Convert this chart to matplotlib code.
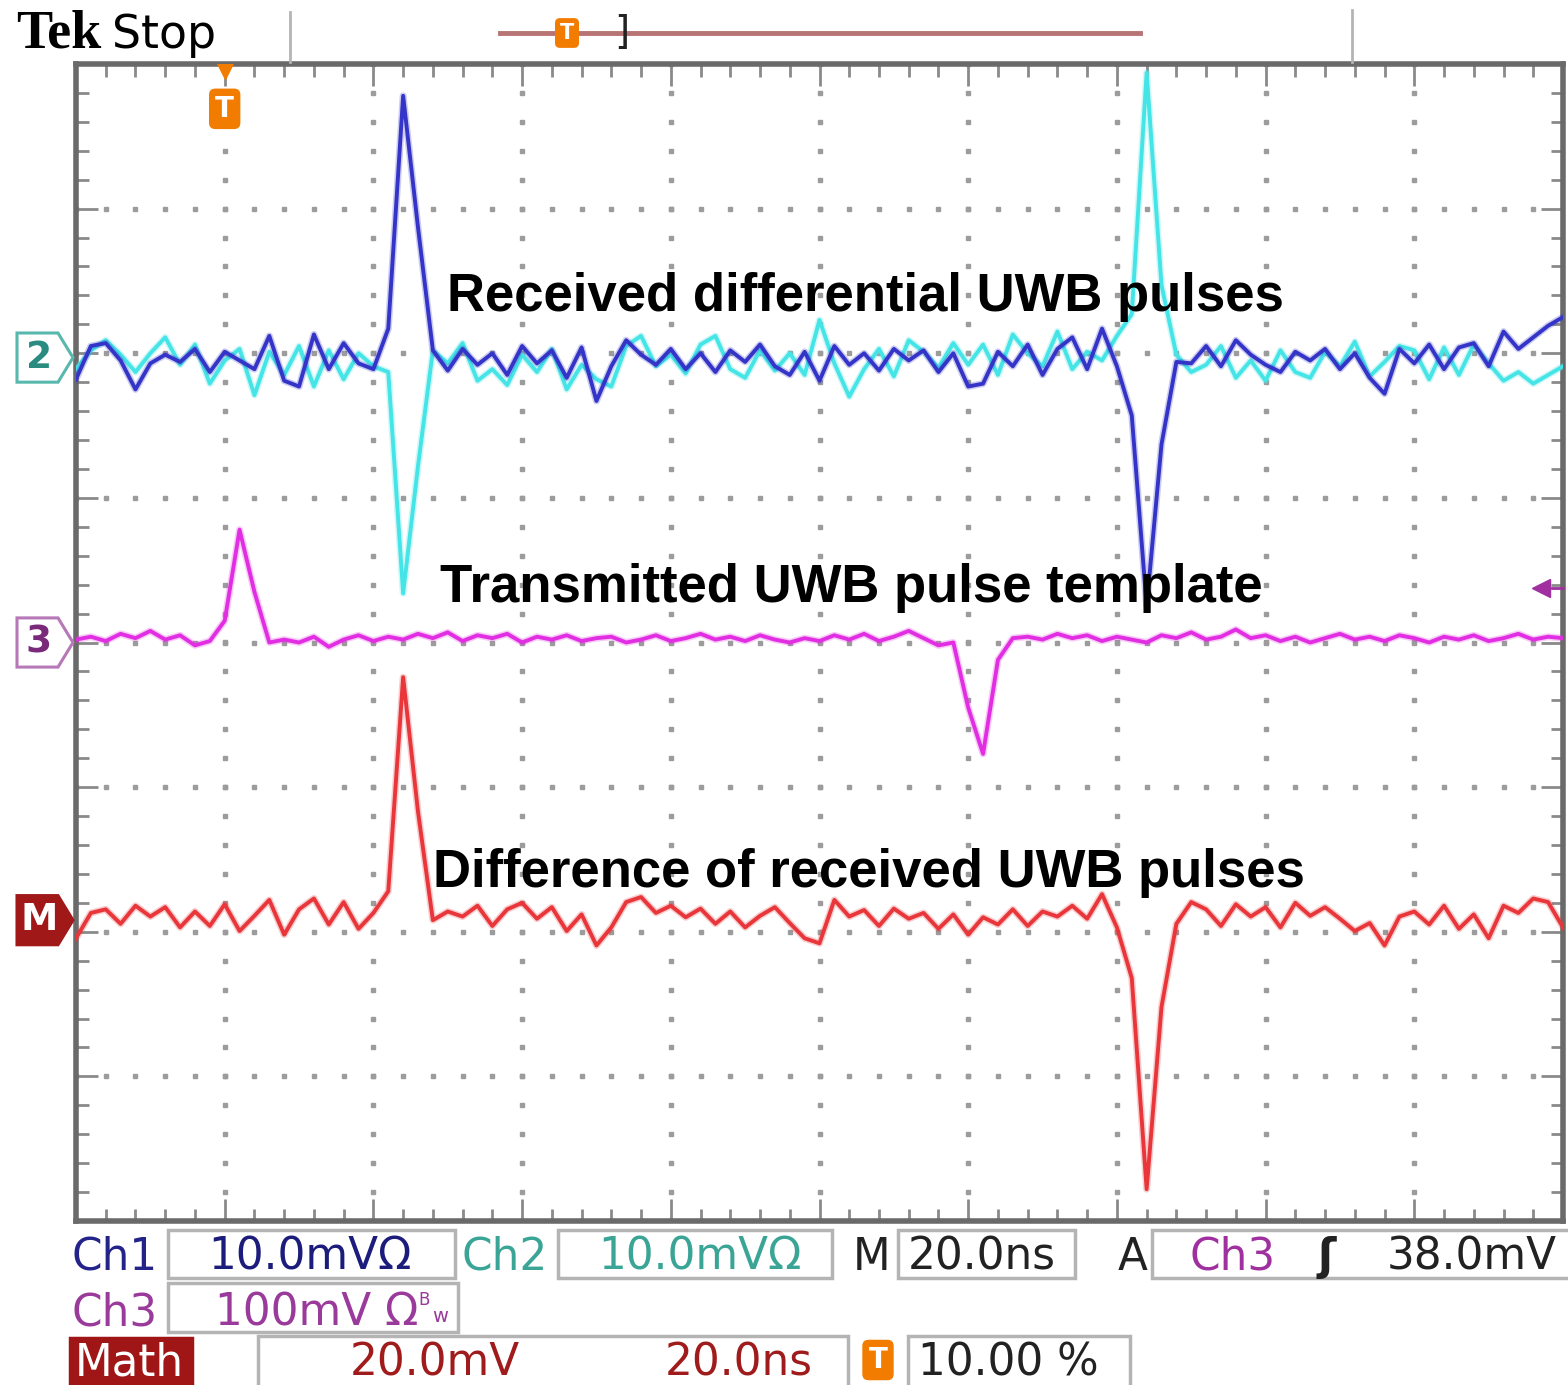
import numpy as np
import matplotlib
matplotlib.use("Agg")
import matplotlib.pyplot as plt
from matplotlib import transforms
from matplotlib.patches import Polygon, Rectangle
from matplotlib.lines import Line2D
from matplotlib.ticker import MultipleLocator

W, H = 1568, 1385

# sample times in ns (20 ns/div, 10 divisions)
t_ns = np.arange(0, 201, 2)

# Ch1 received pulse (mV)
ch1_mv = [-1.5, 0.8, 1.0, -0.2, -2.2, -0.4, 0.2, -0.3, 0.6, -1.0,
          0.4, -0.2, -0.8, 1.5, -1.6, -2.0, 1.6, -0.8, 1.0, -0.4,
          -0.8, 2.0, 18.1, 9.0, 0.5, -0.9, 0.6, -0.5, 0.3, -1.2,
          0.8, -0.4, 0.5, -1.4, 0.7, -3.0, -0.6, 1.2, 0.2, -0.5,
          0.6, -0.8, 0.3, -1.0, 0.5, -0.3, 0.9, -0.6, -1.2, 0.4,
          -1.6, 0.8, -0.5, 0.3, -0.9, 0.6, -0.2, 0.5, -1.0, 0.3,
          -2.0, -1.8, 0.4, -0.6, 0.9, -1.2, 0.6, 1.4, -0.8, 2.0,
          -0.6, -4.0, -17.2, -6.0, -0.3, -0.4, 0.8, -0.6, 1.2, 0.2,
          -0.5, -1.0, 0.4, -0.2, 0.6, -0.8, 0.3, -1.4, -2.5, 0.6,
          -0.4, 0.9, -0.8, 0.7, 1.0, -0.6, 1.8, 0.6, 1.4, 2.2,
          2.8]

# Ch2 received pulse, opposite polarity (mV)
ch2_mv = [-0.8, 0.5, 1.2, 0.2, -1.0, 0.3, 1.4, -0.5, 0.9, -1.8,
          -0.2, 0.6, -2.6, 0.4, -1.2, 0.8, -2.0, 0.5, -1.5, 0.3,
          -0.6, -1.0, -16.3, -7.5, 0.5, -0.4, 1.0, -1.6, -0.8, -1.9,
          0.2, -1.0, 0.6, -2.2, -0.5, -1.5, -2.0, 0.8, 1.5, -0.6,
          0.2, -1.1, 0.9, 1.5, -0.8, -1.4, 0.5, -0.9, 0.3, -1.2,
          2.6, -0.4, -2.7, -0.8, 0.6, -1.3, 1.2, 0.4, -0.7, 1.0,
          -0.5, 0.9, -1.2, 1.6, 0.3, -0.6, 1.8, -0.8, 0.4, -0.2,
          1.5, 3.0, 19.7, 5.0, 0.2, -1.0, -0.5, 0.8, -1.4, -0.2,
          -1.6, 0.5, -1.0, -1.4, 0.4, -0.6, 1.1, -1.3, -0.3, 0.8,
          0.5, -1.5, 0.7, -1.2, 0.9, -0.4, -1.6, -1.0, -1.8, -1.2,
          -0.6]

# Ch3 transmitted template (mV)
ch3_mv = [2, 4, 1, 6, 3, 8, 2, 5, -2, 1,
          15, 78, 35, 0, 2, 0, 4, -3, 2, 5,
          1, 4, 2, 6, 3, 7, 1, 5, 3, 6,
          0, 4, 2, 5, 1, 3, 4, 0, 2, 5,
          1, 3, 6, 2, 4, 1, 5, 2, 0, 3,
          1, 5, 2, 6, 1, 4, 8, 3, -2, 0,
          -45, -77, -12, 3, 4, 2, 6, 3, 5, 1,
          4, 2, 0, 5, 3, 7, 2, 4, 9, 3,
          5, 1, 4, 0, 3, 6, 2, 4, 1, 5,
          3, 0, 4, 2, 5, 1, 3, 6, 2, 4,
          3]

# Math trace, difference of received pulses (mV)
math_mv = [-2.5, 1.0, 1.5, -0.5, 2.0, 0.5, 1.8, -1.0, 1.2, -0.8,
           2.2, -1.5, 0.6, 2.8, -2.0, 1.5, 3.0, -0.6, 2.5, -1.2,
           1.0, 4.0, 33.6, 15.0, 0.0, 1.2, 0.5, 2.0, -0.8, 1.5,
           2.4, 0.2, 1.8, -1.5, 0.8, -3.5, -1.0, 2.5, 3.2, 1.0,
           2.0, 0.4, 1.6, -0.5, 1.2, -1.0, 0.6, 1.8, -0.4, -2.5,
           -3.2, 2.8, 0.5, 1.4, -0.8, 1.6, 0.2, 1.0, -1.2, 0.8,
           -2.0, 0.4, -0.6, 1.5, -0.8, 1.2, 0.5, 2.0, 0.2, 3.6,
           -1.0, -8.0, -37.2, -12.0, -0.5, 2.5, 1.5, -0.8, 2.2, 0.5,
           1.8, -1.0, 2.4, 0.6, 1.8, 0.2, -1.5, -0.4, -3.5, 0.5,
           1.2, -0.6, 2.0, -1.2, 0.8, -2.5, 2.0, 1.0, 3.0, 2.5,
           -1.0]

# vertical scale (mV/div) and position (div)
ch1_scale, ch2_scale, ch3_scale, math_scale = 10.0, 10.0, 100.0, 20.0
ch12_pos, ch3_pos, math_pos = 1.97, 0.0, -1.92
trig_level_mv = 38.0
trig_time_ns = 20.0

labels = ['Received differential UWB pulses',
          'Transmitted UWB pulse template',
          'Difference of received UWB pulses']


def fx(px):
    return px / W


def fy(py):
    return 1 - py / H


fig = plt.figure(figsize=(W / 100, H / 100), dpi=100)
fig.patch.set_facecolor('white')

ax = fig.add_axes([fx(76), fy(1221), fx(1563) - fx(76), fy(64) - fy(1221)])
ax.set_xlim(0, 200)
ax.set_ylim(-4, 4)
for s in ax.spines.values():
    s.set_color('#6a6a6a')
    s.set_linewidth(4)
ax.xaxis.set_major_locator(MultipleLocator(20))
ax.xaxis.set_minor_locator(MultipleLocator(4))
ax.yaxis.set_major_locator(MultipleLocator(1))
ax.yaxis.set_minor_locator(MultipleLocator(0.2))
ax.tick_params(which='both', direction='in', top=True, right=True,
               labelbottom=False, labelleft=False, color='#8a8a8a', width=2)
ax.tick_params(which='major', length=16)
ax.tick_params(which='minor', length=9)

# dotted graticule
for x in np.arange(20, 200, 20):
    ys = np.arange(-4, 4.01, 0.2)
    ax.plot(np.full_like(ys, x), ys, ls='none', marker='s', ms=2.4,
            color='#9c9c9c', zorder=1)
for y in np.arange(-3, 4, 1):
    xs = np.arange(0, 200.1, 4)
    ax.plot(xs, np.full_like(xs, y), ls='none', marker='s', ms=2.4,
            color='#9c9c9c', zorder=1)

# waveforms (light halo under each trace, like the phosphor display)
traces = [
    (ch12_pos + np.array(ch2_mv) / ch2_scale, '#45e4e6', 3),
    (ch12_pos + np.array(ch1_mv) / ch1_scale, '#3434c8', 4),
    (ch3_pos + np.array(ch3_mv) / ch3_scale, '#e22ee2', 3),
    (math_pos + np.array(math_mv) / math_scale, '#e8363a', 3),
]
for yv, col, z in traces:
    ax.plot(t_ns, yv, color=col, lw=5, alpha=0.25, zorder=z)
    ax.plot(t_ns, yv, color=col, lw=2.8, zorder=z)

# trigger level arrow on the right edge
lvl = ch3_pos + trig_level_mv / ch3_scale
ax.plot([198.5, 200], [lvl, lvl], color='#a0309f', lw=2, zorder=5, clip_on=False)
ax.plot([197], [lvl], marker='<', ms=13, color='#a0309f', zorder=5, clip_on=False)

# trigger position marker at the top
ax.plot([trig_time_ns], [3.95], marker='v', ms=12, color='#f27c00', zorder=5)
ax.text(trig_time_ns, 3.69, 'T', ha='center', va='center', color='white',
        fontsize=20, fontweight='bold', zorder=6,
        bbox=dict(boxstyle='round,pad=0.2', fc='#f27c00', ec='#f27c00'))

# channel position markers on the left
blend = transforms.blended_transform_factory(fig.transFigure, ax.transData)


def chan_marker(ypos, label, edge, face, txt):
    h = 0.17
    pts = [(fx(17), ypos - h), (fx(58), ypos - h), (fx(73), ypos),
           (fx(58), ypos + h), (fx(17), ypos + h)]
    ax.add_patch(Polygon(pts, closed=True, transform=blend, clip_on=False,
                         fc=face, ec=edge, lw=2.2, zorder=6))
    ax.text(fx(39), ypos, label, transform=blend, ha='center', va='center',
            color=txt, fontsize=27, fontweight='bold', clip_on=False, zorder=7)


chan_marker(ch12_pos, '2', '#58b8ae', 'white', '#2a8c80')
chan_marker(ch3_pos, '3', '#b678b6', 'white', '#7a2a7a')
chan_marker(math_pos, 'M', '#a01818', '#a01818', 'white')

# annotations
ann = dict(family='Liberation Sans', weight='bold', size=38, color='black',
           ha='left', va='baseline', zorder=10)
fig.text(fx(447), fy(311), labels[0], **ann)
fig.text(fx(440), fy(602), labels[1], **ann)
fig.text(fx(433), fy(887), labels[2], **ann)

# status bar at the top
fig.text(fx(16), fy(48), 'Tek', family='Liberation Serif', weight='bold', size=39)
fig.text(fx(112), fy(48), 'Stop', family='DejaVu Sans', size=33)
fig.add_artist(Line2D([fx(290)] * 2, [fy(12), fy(62)], color='#b4b4b4', lw=2))
fig.add_artist(Line2D([fx(1352)] * 2, [fy(10), fy(62)], color='#b4b4b4', lw=2))
fig.add_artist(Line2D([fx(500), fx(1140)], [fy(33)] * 2, color='#b87474', lw=3.5))
fig.text(fx(567), fy(33), 'T', ha='center', va='center', color='white',
         fontsize=15, fontweight='bold',
         bbox=dict(boxstyle='round,pad=0.2', fc='#f27c00', ec='#f27c00'))
fig.text(fx(622), fy(33), ']', ha='center', va='center', fontsize=28, color='#222222')

# readout area
ro = dict(family='DejaVu Sans', size=31.5, va='baseline')


def box(x0, y0, x1, y1, fc='white', ec='#b4b4b4'):
    fig.add_artist(Rectangle((fx(x0), fy(y1)), fx(x1) - fx(x0), fy(y0) - fy(y1),
                             transform=fig.transFigure, fc=fc, ec=ec, lw=2.5))


box(168, 1230, 455, 1278)
box(558, 1230, 832, 1278)
box(898, 1230, 1075, 1278)
box(1152, 1230, 1580, 1278)
box(168, 1283, 458, 1332)
box(70, 1338, 192, 1395, fc='#a01616', ec='#a01616')
box(258, 1336, 848, 1400)
box(908, 1336, 1130, 1400)

fig.text(fx(72), fy(1270), 'Ch1', color='#23238a', **ro)
fig.text(fx(208), fy(1270), '10.0mVΩ', color='#1c1c7c', **ro)
fig.text(fx(462), fy(1270), 'Ch2', color='#3aa596', **ro)
fig.text(fx(598), fy(1270), '10.0mVΩ', color='#3aa596', **ro)
fig.text(fx(853), fy(1270), 'M', color='#222222', **ro)
fig.text(fx(908), fy(1270), '20.0ns', color='#222222', **ro)
fig.text(fx(1118), fy(1270), 'A', color='#222222', **ro)
fig.text(fx(1190), fy(1270), 'Ch3', color='#a0309f', **ro)
fig.text(fx(1318), fy(1270), 'ʃ', color='#222222', fontweight='bold', **ro)
fig.text(fx(1387), fy(1270), '38.0mV', color='#222222', **ro)

fig.text(fx(72), fy(1325), 'Ch3', color='#9a3a9a', **ro)
fig.text(fx(215), fy(1325), '100mV Ω', color='#9a3a9a', **ro)
fig.text(fx(418), fy(1305), 'B', color='#9a3a9a', family='DejaVu Sans', size=12)
fig.text(fx(432), fy(1322), 'w', color='#9a3a9a', family='DejaVu Sans', size=14)

fig.text(fx(75), fy(1376), 'Math', color='white', **ro)
fig.text(fx(350), fy(1376), '20.0mV', color='#a01c1c', **ro)
fig.text(fx(665), fy(1376), '20.0ns', color='#a01c1c', **ro)
fig.text(fx(878), fy(1360), 'T', ha='center', va='center', color='white',
         fontsize=20, fontweight='bold',
         bbox=dict(boxstyle='round,pad=0.2', fc='#f27c00', ec='#f27c00'))
fig.text(fx(918), fy(1376), '10.00 %', color='#222222', **ro)

fig.savefig('out.png', dpi=100)
